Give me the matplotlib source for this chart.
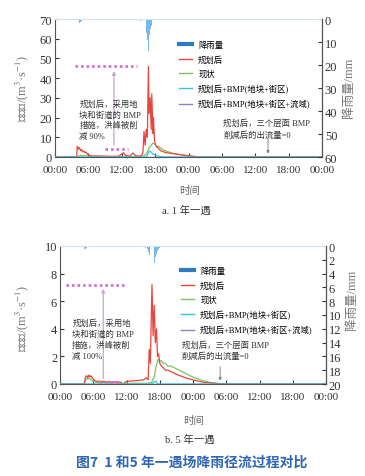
import numpy as np
import matplotlib.pyplot as plt
from matplotlib.lines import Line2D

plt.rcParams['font.family'] = ['Liberation Serif', 'Noto Sans CJK SC', 'DejaVu Sans']
plt.rcParams['mathtext.fontset'] = 'stix'

# ---- 数据 (时间: 小时, 0-48) ----
hours = [0, 6, 12, 18, 24, 30, 36, 42, 48]
hour_labels = ['00:00', '06:00', '12:00', '18:00', '00:00', '06:00', '12:00', '18:00', '00:00']

rain_t = [4.2, 4.4, 4.6, 4.8, 5.0, 5.2, 9.6, 10.4, 11.0, 11.8, 12.6, 13.4, 14.0, 14.6,
          15.0, 15.4, 15.8, 16.0, 16.2, 16.4, 16.6, 16.8, 17.0, 17.2, 17.4, 17.6, 17.8,
          18.0, 18.4, 18.8, 19.4, 20.0, 20.8, 21.6, 22.4, 23.2]
rain1_mm = [0.6, 1.6, 1.2, 0.8, 0.5, 0.3, 0.2, 0.3, 0.2, 0.4, 0.3, 0.2, 0.4, 0.3,
            0.5, 0.8, 1.5, 2.5, 4.0, 6.0, 9.0, 14.0, 7.0, 4.5, 3.0, 2.0, 1.2,
            0.8, 0.6, 0.4, 0.3, 0.3, 0.2, 0.2, 0.1, 0.1]
rain5_mm = [0.2, 0.5, 0.4, 0.3, 0.2, 0.1, 0.1, 0.1, 0.1, 0.15, 0.1, 0.1, 0.15, 0.1,
            0.2, 0.3, 0.5, 0.8, 1.3, 2.0, 3.4, 5.2, 2.5, 1.6, 1.1, 0.7, 0.4,
            0.3, 0.2, 0.15, 0.1, 0.1, 0.08, 0.05, 0.05, 0.05]

# 1 年一遇
red1_t = [0, 3.9, 4.0, 4.2, 4.4, 4.6, 4.8, 5.0, 5.2, 5.4, 5.6, 5.8, 6.0, 6.5, 7, 8, 9, 10,
          11, 11.5, 12, 12.3, 12.6, 13, 13.5, 14, 14.3, 14.6, 15, 15.3, 15.6, 15.8, 16.0,
          16.2, 16.4, 16.6, 16.8, 16.9, 17.1, 17.3, 17.4, 17.6, 17.7, 17.9, 18.1, 18.4,
          18.7, 19, 19.5, 20, 21, 22, 23, 24, 25, 26, 48]
red1_q = [0, 0, 5.5, 4.0, 4.8, 3.2, 3.8, 2.6, 3.0, 2.2, 2.5, 1.5, 1.0, 0.6, 0.5, 0.5, 0.4,
          0.3, 0.3, 0.5, 1.5, 2.2, 1.0, 0.6, 0.5, 2.0, 1.2, 0.6, 0.5, 0.4, 1.0, 2.0, 13,
          6, 14, 10, 46, 22, 30, 14, 32, 12, 20, 8, 6, 5, 4, 3.2, 2.6, 2.2, 1.8, 1.4,
          1.0, 0.6, 0.3, 0, 0]
green1_t = [0, 4.0, 4.5, 5.5, 6, 10, 15, 16, 16.5, 17, 17.3, 17.6, 18, 18.3, 18.6, 19,
            19.5, 20, 21, 22, 23, 24, 25, 26, 27, 48]
green1_q = [0, 0, 0.8, 0.6, 0.3, 0.2, 0.2, 0.5, 2, 5, 6, 7, 6.5, 5, 5.5, 4.5, 3.5, 3,
            2, 1.4, 1.0, 0.6, 0.3, 0.1, 0, 0]
cyan1_t = [0, 16.4, 16.7, 17.0, 17.3, 17.6, 18, 18.5, 19, 20, 48]
cyan1_q = [0, 0, 1.5, 3.0, 2.5, 1.5, 1.0, 0.5, 0.2, 0, 0]

# 5 年一遇
red5_t = [0, 4.4, 4.6, 4.8, 5.0, 5.2, 5.4, 5.6, 5.8, 6.0, 6.3, 6.6, 7, 8, 9, 10, 11,
          11.2, 11.5, 12, 13, 14, 15, 15.3, 15.6, 15.9, 16.1, 16.3, 16.6, 16.8, 17.0,
          17.2, 17.4, 17.6, 17.8, 18.0, 18.3, 18.6, 19, 19.5, 20, 20.5, 21, 22, 23, 24,
          25, 26, 27, 28, 29, 30, 48]
red5_q = [0, 0, 0.5, 0.6, 0.45, 0.65, 0.5, 0.6, 0.45, 0.35, 0.25, 0.2, 0.2, 0.18,
          0.15, 0.15, 0.12, 0, 0, 0.2, 0.22, 0.25, 0.3, 0.35, 0.45, 0.3, 2.5, 1.5, 7.2,
          3.5, 5.7, 3.0, 4.0, 2.0, 2.2, 1.5, 1.3, 1.2, 1.0, 1.0, 0.9, 0.8, 0.7, 0.55,
          0.4, 0.3, 0.2, 0.12, 0.08, 0.05, 0.02, 0, 0]
green5_t = [0, 4.3, 4.6, 5.0, 5.5, 6.0, 6.5, 8, 10, 12, 14, 15.5, 16.5, 17.0, 17.3,
            17.7, 18.0, 18.3, 18.6, 19, 19.5, 20, 21, 22, 23, 24, 25, 26, 27, 28, 29,
            30, 48]
green5_q = [0, 0, 0.3, 0.4, 0.35, 0.2, 0.12, 0.1, 0.08, 0.05, 0.05, 0.05, 0.1, 0.5,
            1.2, 1.8, 1.6, 1.7, 1.5, 1.5, 1.3, 1.3, 1.1, 0.9, 0.7, 0.5, 0.35, 0.22,
            0.12, 0.06, 0.02, 0, 0]
cyan5_t = [0, 16.6, 17.0, 17.3, 17.6, 48]
cyan5_q = [0, 0, 0.15, 0.2, 0, 0]

purple_t = [0, 48]
purple_q = [0, 0]

legend_labels = ['降雨量', '规划后', '现状', '规划后+BMP(地块+街区)', '规划后+BMP(地块+街区+流域)']

C_RAIN = '#78b9e6'
C_RED = '#e8453c'
C_GREEN = '#7cc35f'
C_CYAN = '#35c2e6'
C_PURPLE = '#8e80c4'
C_DOT = '#d46fc6'
C_ARROW = '#c9a3d3'
C_TXT = '#333333'

W, H = 365, 477
fig = plt.figure(figsize=(W / 100, H / 100), dpi=100)


def px(x, y):
    return x / W, 1 - y / H


def panel(rect, red_t, red_q, green_t, green_q, cyan_t, cyan_q, rain_mm,
          ymax, ystep, rmax, rstep):
    ax = fig.add_axes(rect)
    ax.plot(purple_t, purple_q, color=C_PURPLE, lw=1.0, zorder=2)
    ax.plot(green_t, green_q, color=C_GREEN, lw=0.9, zorder=3)
    ax.plot(red_t, red_q, color=C_RED, lw=0.9, zorder=4)
    ax.plot(cyan_t, cyan_q, color=C_CYAN, lw=0.9, zorder=5)
    ax.set_xlim(0, 48)
    ax.set_ylim(0, ymax)
    ax.set_xticks(hours)
    ax.set_xticklabels(hour_labels)
    ax.set_yticks(np.arange(0, ymax + 0.1, ystep))
    ax.tick_params(direction='in', length=3, width=0.8, labelsize=9, colors=C_TXT, pad=2)
    ax.tick_params(axis='x', labelsize=8, pad=6)
    ax.spines['top'].set_visible(False)
    for s in ['left', 'bottom']:
        ax.spines[s].set_color('#555555')

    ax2 = ax.twinx()
    ax2.axhline(0, color='#cfe3f2', lw=0.8)
    ax2.bar(rain_t, rain_mm, width=0.12, color=C_RAIN, lw=0, zorder=1)
    ax2.set_ylim(rmax, 0)
    ax2.set_yticks(np.arange(0, rmax + 0.1, rstep))
    ax2.tick_params(direction='in', length=3, width=0.8, labelsize=9, colors=C_TXT, pad=2)
    ax2.spines['top'].set_visible(False)
    ax2.spines['right'].set_color('#555555')
    ax2.spines['left'].set_visible(False)
    ax2.spines['bottom'].set_visible(False)
    return ax, ax2


def legend(ax, x, y):
    handles = [Line2D([], [], color='#2b7cc0', lw=3),
               Line2D([], [], color=C_RED, lw=1),
               Line2D([], [], color=C_GREEN, lw=1),
               Line2D([], [], color=C_CYAN, lw=1),
               Line2D([], [], color=C_PURPLE, lw=1)]
    ax.legend(handles, legend_labels, loc='upper left', bbox_to_anchor=px(x, y),
              bbox_transform=fig.transFigure, frameon=False, fontsize=6,
              handlelength=1.6, handletextpad=0.7, labelspacing=0.72, borderpad=0,
              borderaxespad=0)


# ---- a. 1 年一遇 ----
ax, ax2 = panel([55 / W, 1 - 158 / H, 267 / W, 138 / H], red1_t, red1_q, green1_t, green1_q,
                cyan1_t, cyan1_q, rain1_mm, 70, 10, 60, 10)
legend(ax2, 179, 42)
peak1 = max(red1_q)
ax.plot([3.6, 14.8], [peak1, peak1], color=C_DOT, lw=2, ls=(0, (0.9, 1.1)), zorder=6)
ax.plot([9.0, 13.2], [peak1 * 0.09, peak1 * 0.09], color=C_DOT, lw=2, ls=(0, (0.9, 1.1)), zorder=6)
ax.annotate('', xy=(10.6, peak1 - 1), xytext=(10.6, peak1 * 0.09 + 0.5),
            arrowprops=dict(arrowstyle='-|>', color=C_ARROW, lw=0.9, mutation_scale=5), zorder=1)
ax.text(4.4, 29.5, '规划后，采用地\n块和街道的 BMP\n措施，洪峰被削\n减 90%', fontsize=6,
        color=C_TXT, va='top', ha='left', linespacing=1.45, zorder=7)
ax.text(30.2, 19.5, '规划后，三个层面 BMP\n削减后的出流量=0', fontsize=6, color=C_TXT,
        va='top', ha='left', linespacing=1.5)
ax.annotate('', xy=(38.3, 0.3), xytext=(38.3, 10.5),
            arrowprops=dict(arrowstyle='-|>', color='#777777', lw=0.6, mutation_scale=4))

fig.text(*px(22, 88), '径流量/(m$^{3}$·s$^{-1}$)', rotation=90, ha='center', va='center',
         fontsize=9, color='#777777')
fig.text(*px(349, 88), '降雨量/mm', rotation=90, ha='center', va='center', fontsize=9,
         color='#777777')
fig.text(*px(189, 191), '时间', ha='center', va='center', fontsize=7.5, color='#666666')
fig.text(*px(186, 211), 'a. 1 年一遇', ha='center', va='center', fontsize=7.5, color=C_TXT)

# ---- b. 5 年一遇 ----
bx, bx2 = panel([60 / W, 1 - 385 / H, 266 / W, 138 / H], red5_t, red5_q, green5_t, green5_q,
                cyan5_t, cyan5_q, rain5_mm, 10, 2, 20, 2)
legend(bx2, 181, 268)
peak5 = max(red5_q)
bx.plot([1.0, 12.0], [peak5, peak5], color=C_DOT, lw=2, ls=(0, (0.9, 1.1)), zorder=6)
bx.plot([7.0, 11.0], [0.15, 0.15], color=C_DOT, lw=2, ls=(0, (0.9, 1.1)), zorder=6)
bx.annotate('', xy=(7.8, peak5 - 0.1), xytext=(7.8, 0.2),
            arrowprops=dict(arrowstyle='-|>', color=C_ARROW, lw=0.9, mutation_scale=5), zorder=1)
bx.text(2.2, 4.75, '规划后，采用地\n块和街道的 BMP\n措施，洪峰被削\n减 100%', fontsize=6,
        color=C_TXT, va='top', ha='left', linespacing=1.45, zorder=7)
bx.text(22.0, 3.2, '规划后，三个层面 BMP\n削减后的出流量=0', fontsize=6, color=C_TXT,
        va='top', ha='left', linespacing=1.5)
bx.annotate('', xy=(28.9, 0.05), xytext=(28.9, 1.45),
            arrowprops=dict(arrowstyle='-|>', color='#777777', lw=0.6, mutation_scale=4))

fig.text(*px(22, 318), '径流量/(m$^{3}$·s$^{-1}$)', rotation=90, ha='center', va='center',
         fontsize=9, color='#777777')
fig.text(*px(352, 300), '降雨量/mm', rotation=90, ha='center', va='center', fontsize=9,
         color='#777777')
fig.text(*px(193, 421), '时间', ha='center', va='center', fontsize=7.5, color='#666666')
fig.text(*px(190, 440), 'b. 5 年一遇', ha='center', va='center', fontsize=7.5, color=C_TXT)

fig.text(*px(192, 463), '图7  1 和5 年一遇场降雨径流过程对比', ha='center', va='center',
         fontsize=10, color='#2f66b3', fontweight='bold',
         family=['Noto Sans CJK SC', 'DejaVu Sans'])

fig.savefig('out.png', dpi=100)
